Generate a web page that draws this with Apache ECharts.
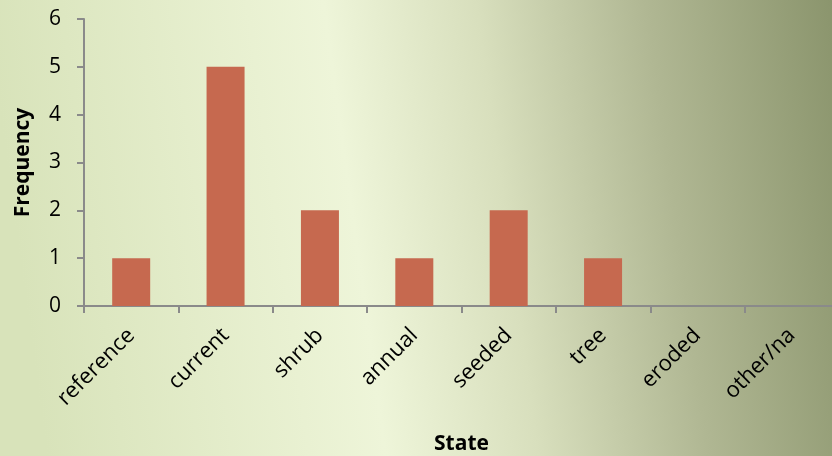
<!DOCTYPE html>
<html><head><meta charset="utf-8">
<script src="https://cdn.jsdelivr.net/npm/echarts@6/dist/echarts.min.js"></script>
<style>html,body{margin:0;padding:0;}#c{width:832px;height:456px;}</style>
</head><body><div id="c"></div>
<script>
const categories = ["reference","current","shrub","annual","seeded","tree","eroded","other/na"];
const frequency = [1,5,2,1,2,1,0,0];
const yTicks = [0,1,2,3,4,5,6];

const chart = echarts.init(document.getElementById('c'));
chart.setOption({
  backgroundColor: new echarts.graphic.LinearGradient(0, 0.25, 1, 0, [
    {offset: 0, color: '#d8e3ba'},
    {offset: 0.4, color: '#eef5d9'},
    {offset: 0.58, color: '#d8dfbd'},
    {offset: 0.78, color: '#b0b793'},
    {offset: 1, color: '#8b956d'}
  ]),
  animation: false,
  grid: {left: 84, top: 19, width: 755, height: 287, containLabel: false, outerBoundsMode: 'none'},
  xAxis: {
    type: 'category',
    data: categories,
    name: 'State',
    nameLocation: 'middle',
    nameGap: 128,
    nameTextStyle: {fontFamily: 'Open Sans', fontWeight: 'bold', fontSize: 21, color: '#000'},
    axisLine: {lineStyle: {color: '#8a8a8a', width: 2}},
    axisTick: {show: true, length: 7, lineStyle: {color: '#8a8a8a', width: 2}},
    axisLabel: {rotate: 45, margin: 26, fontFamily: 'Open Sans', fontSize: 22, color: '#000'}
  },
  yAxis: {
    type: 'value',
    min: 0, max: 6, interval: 1,
    name: 'Frequency',
    nameLocation: 'middle',
    nameGap: 50,
    nameTextStyle: {fontFamily: 'Open Sans', fontWeight: 'bold', fontSize: 21, color: '#000'},
    splitLine: {show: false},
    axisLine: {show: true, lineStyle: {color: '#8a8a8a', width: 2}},
    axisTick: {show: true, length: 7, lineStyle: {color: '#8a8a8a', width: 2}},
    axisLabel: {margin: 23, fontFamily: 'Open Sans', fontSize: 21, color: '#000',
      formatter: v => yTicks.includes(v) ? String(v) : ''}
  },
  series: [{
    type: 'bar',
    data: frequency,
    barWidth: 38,
    itemStyle: {color: '#c6694f'}
  }]
});
</script></body></html>
